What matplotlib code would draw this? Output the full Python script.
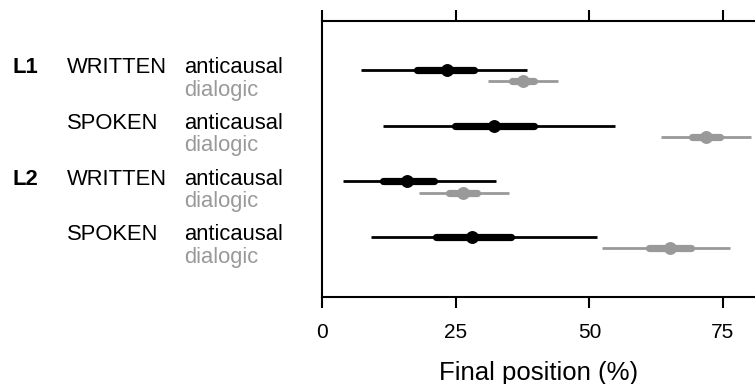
import numpy as np
import matplotlib
matplotlib.use("Agg")
import matplotlib.pyplot as plt
import matplotlib.transforms as mtransforms

plt.rcParams['font.family'] = ['Liberation Sans', 'DejaVu Sans']

# rows: L1 written, L1 spoken, L2 written, L2 spoken
languages = ['L1', '', 'L2', '']
modes = ['WRITTEN', 'SPOKEN', 'WRITTEN', 'SPOKEN']

# posterior summaries of final position (%), per row
anticausal_mid = [23.3, 32.2, 15.8, 28.0]
anticausal_inner = [(17.7, 28.4), (24.9, 39.6), (11.3, 20.9), (21.2, 35.4)]
anticausal_outer = [(7.3, 38.4), (11.4, 54.8), (3.9, 32.5), (9.1, 51.4)]

dialogic_mid = [37.5, 71.9, 26.3, 65.0]
dialogic_inner = [(35.5, 39.6), (69.2, 74.5), (23.8, 29.0), (61.1, 69.1)]
dialogic_outer = [(31.1, 44.2), (63.4, 80.2), (18.1, 35.0), (52.3, 76.3)]

black = 'black'
grey = '#999999'
offset = 0.2

fig = plt.figure(figsize=(7.55, 3.84), dpi=100)
ax = fig.add_axes([322.3 / 755, 1 - 297.3 / 384, 1 - 322.3 / 755, (297.3 - 20.7) / 384])


def draw_interval(y, mid, inner, outer, color):
    ax.plot(outer, [y, y], color=color, lw=2.0, solid_capstyle='butt', zorder=2)
    ax.plot(inner, [y, y], color=color, lw=5.2, solid_capstyle='round', zorder=3)
    ax.plot([mid], [y], 'o', color=color, ms=9.3, mec='none', zorder=4)


for i in range(4):
    draw_interval(i, anticausal_mid[i], anticausal_inner[i], anticausal_outer[i], black)
    draw_interval(i + offset, dialogic_mid[i], dialogic_inner[i], dialogic_outer[i], grey)

ax.set_xlim(0, 81.0)
ax.set_ylim(4.08, -0.885)
ax.set_xticks([0, 25, 50, 75])
ax.set_yticks([])
ax.tick_params(axis='x', which='both', direction='out', length=8, width=1.5,
               top=True, labeltop=False, labelsize=15, pad=10.5)
for side in ['left', 'top', 'bottom']:
    ax.spines[side].set_linewidth(1.5)
ax.spines['right'].set_visible(False)
ax.set_xlabel('Final position (%)', fontsize=18.5, labelpad=14)

# row labels in figure pixels (x) and data units (y)
trans = mtransforms.blended_transform_factory(fig.transFigure, ax.transData)
for i in range(4):
    ya = i - 0.04
    yd = i + offset + 0.16
    if languages[i]:
        ax.text(13 / 755, ya, languages[i], transform=trans, fontsize=15.8,
                fontweight='bold', va='center', ha='left')
    ax.text(66.7 / 755, ya, modes[i], transform=trans, fontsize=15.8,
            va='center', ha='left')
    ax.text(184.3 / 755, ya, 'anticausal', transform=trans, fontsize=15.8,
            va='center', ha='left', color=black)
    ax.text(184.3 / 755, yd, 'dialogic', transform=trans, fontsize=15.8,
            va='center', ha='left', color=grey)

fig.savefig('out.png', dpi=100)
